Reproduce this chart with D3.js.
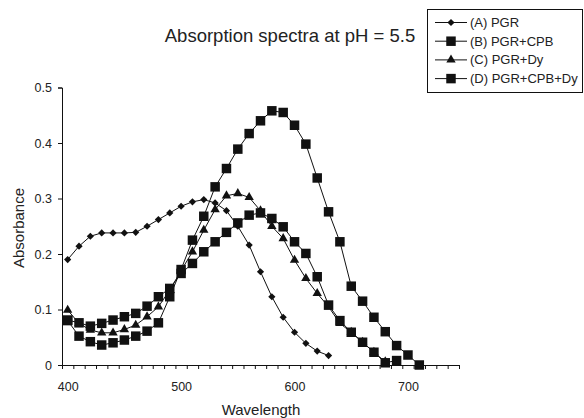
<!DOCTYPE html>
<html><head><meta charset="utf-8">
<script src="https://cdn.jsdelivr.net/npm/d3@7"></script>
<style>body{margin:0;background:#fff}svg{display:block;font-family:"Liberation Sans",Arial,sans-serif}</style>
</head><body><svg id="c" width="584" height="418"></svg>
<script>
const wlA = [400,410,420,430,440,450,460,470,480,490,500,510,520,530,540,550,560,570,580,590,600,610,620,630];
const valA = [0.19,0.214,0.232,0.238,0.238,0.238,0.239,0.25,0.262,0.274,0.286,0.294,0.298,0.292,0.278,0.25,0.216,0.168,0.123,0.086,0.059,0.039,0.025,0.017];
const wlB = [400,410,420,430,440,450,460,470,480,490,500,510,520,530,540,550,560,570,580,590,600,610,620,630,640,650,660,670,680,690,700,710];
const valB = [0.08,0.052,0.042,0.036,0.04,0.045,0.052,0.061,0.076,0.123,0.172,0.225,0.268,0.321,0.354,0.389,0.417,0.44,0.458,0.455,0.432,0.398,0.337,0.276,0.222,0.142,0.115,0.086,0.06,0.035,0.018,0.0];
const wlC = [400,410,420,430,440,450,460,470,480,490,500,510,520,530,540,550,560,570,580,590,600,610,620,630,640,650,660,670,680];
const valC = [0.099,0.075,0.063,0.058,0.058,0.064,0.072,0.087,0.105,0.135,0.17,0.204,0.243,0.28,0.305,0.309,0.302,0.278,0.25,0.228,0.189,0.156,0.129,0.105,0.075,0.059,0.041,0.023,0.006];
const wlD = [400,410,420,430,440,450,460,470,480,490,500,510,520,530,540,550,560,570,580,590,600,610,620,630,640,650,660,670,680,690];
const valD = [0.081,0.076,0.07,0.075,0.081,0.087,0.093,0.106,0.123,0.138,0.165,0.183,0.204,0.222,0.239,0.256,0.27,0.274,0.264,0.249,0.222,0.201,0.159,0.108,0.08,0.059,0.041,0.023,0.004,0.008];
const seriesNames = ["(A) PGR","(B) PGR+CPB","(C) PGR+Dy","(D) PGR+CPB+Dy"];
const seriesMarkers = ["diamond","square","triangle","square"];
const yTicks = [0,0.1,0.2,0.3,0.4,0.5];
const xLabels = [400,500,600,700];
const title = "Absorption spectra at pH = 5.5";
const xTitle = "Wavelength";
const yTitle = "Absorbance";

const series = [
  {name:seriesNames[0], marker:seriesMarkers[0], pts:wlA.map((w,i)=>[w,valA[i]])},
  {name:seriesNames[1], marker:seriesMarkers[1], pts:wlB.map((w,i)=>[w,valB[i]])},
  {name:seriesNames[2], marker:seriesMarkers[2], pts:wlC.map((w,i)=>[w,valC[i]])},
  {name:seriesNames[3], marker:seriesMarkers[3], pts:wlD.map((w,i)=>[w,valD[i]])}
];

const svg = d3.select("#c");
const x = d3.scaleLinear().domain([395,745]).range([62,459]);
const y = d3.scaleLinear().domain([0,0.5]).range([365,87.5]);
const col = "#111";

const symType = {diamond:d3.symbolSquare, square:d3.symbolSquare, triangle:d3.symbolTriangle};
const symSize = {diamond:26, square:90, triangle:38};
const symRot = {diamond:45, square:0, triangle:0};
const sym = m => d3.symbol().type(symType[m]).size(symSize[m])();

// Axes
const yAxis = d3.axisLeft(y).tickValues(yTicks).tickSize(4).tickPadding(6)
  .tickFormat(d => d===0 ? "0" : d.toFixed(1));
const gy = svg.append("g").attr("transform","translate(62,0)").call(yAxis);
gy.selectAll("text").attr("font-size",12.5).attr("fill","#222");
gy.selectAll("line,path").attr("stroke",col);

const minor = d3.range(395,746,10);
const xAxis = d3.axisBottom(x).tickValues(minor).tickSize(4).tickFormat("");
const gx = svg.append("g").attr("transform","translate(0,365)").call(xAxis);
gx.selectAll("line,path").attr("stroke",col);
const xl = d3.axisBottom(x).tickValues(xLabels).tickSize(0).tickPadding(17).tickFormat(d3.format("d"));
const gxl = svg.append("g").attr("transform","translate(0,365)").call(xl);
gxl.select(".domain").remove();
gxl.selectAll("text").attr("font-size",12.5).attr("fill","#222");

// Lines and markers
const line = d3.line().x(d=>x(d[0])).y(d=>y(d[1]));
series.forEach(s => {
  svg.append("path").attr("d", line(s.pts)).attr("fill","none").attr("stroke",col).attr("stroke-width",1);
});
series.forEach(s => {
  svg.append("g").selectAll("path").data(s.pts).join("path")
    .attr("d", sym(s.marker))
    .attr("transform", d => `translate(${x(d[0])},${y(d[1])}) rotate(${symRot[s.marker]})`)
    .attr("fill", col);
});

// Titles
svg.append("text").attr("x",290).attr("y",42).attr("text-anchor","middle")
  .attr("font-size",18.5).attr("fill","#222").text(title);
svg.append("text").attr("x",261).attr("y",415).attr("text-anchor","middle")
  .attr("font-size",15).attr("fill","#222").text(xTitle);
svg.append("text").attr("transform","translate(24,228) rotate(-90)").attr("text-anchor","middle")
  .attr("font-size",15).attr("fill","#222").text(yTitle);

// Legend
const lg = svg.append("g");
lg.append("rect").attr("x",427.5).attr("y",9.5).attr("width",155).attr("height",83)
  .attr("fill","#fff").attr("stroke",col);
series.forEach((s,i) => {
  const yy = 22.5 + i*18.7;
  lg.append("line").attr("x1",435).attr("x2",467).attr("y1",yy).attr("y2",yy).attr("stroke",col);
  lg.append("path").attr("d", sym(s.marker)).attr("transform",`translate(451,${yy}) rotate(${symRot[s.marker]})`).attr("fill",col);
  lg.append("text").attr("x",470).attr("y",yy+4.5).attr("font-size",13).attr("fill","#222").text(s.name);
});
</script></body></html>
